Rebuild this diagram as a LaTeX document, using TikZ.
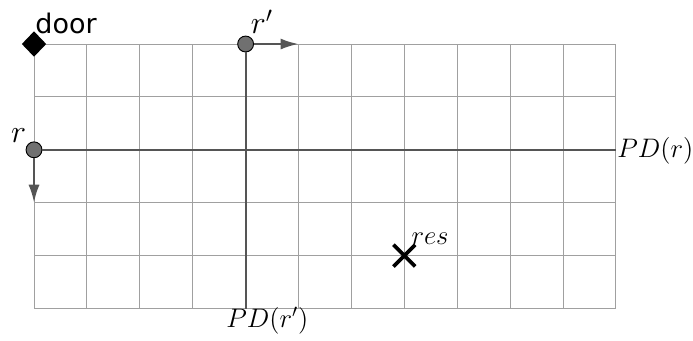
\documentclass[tikz,border=0pt]{standalone}
\usepackage{fontspec}
\newfontfamily\doorfont{DejaVu Sans}
\usetikzlibrary{arrows.meta, shapes.geometric, shapes.misc}
\definecolor{gridgray}{HTML}{A0A0A0}
\definecolor{axisgray}{HTML}{555555}
\definecolor{robotgray}{HTML}{707070}

\begin{document}
\begin{tikzpicture}[
  robot/.style={circle, draw=black, fill=robotgray, minimum size=0.3cm, inner sep=0pt, line width=0.5pt},
  axis/.style={draw=axisgray, line width=1.2pt},
  heading/.style={draw=axisgray, line width=1.2pt, -{Latex[length=3.4mm, width=2.1mm]}},
  mathlabel/.style={inner sep=0pt, font=\Large},
  robotlabel/.style={inner sep=0pt, font=\LARGE},
  doormark/.style={diamond, fill=black, minimum width=0.46cm, minimum height=0.48cm, inner sep=0pt, outer sep=0pt},
  resmark/.style={cross out, draw=black, line width=2pt, minimum size=0.34cm, inner sep=0pt}
]
\useasboundingbox (-0.643,-0.605) rectangle (12.457,5.832);
% grid
\draw[gridgray, line width=0.5pt] (0,0) grid (11,5);
% positions
\coordinate (pdr) at (11,3);
\coordinate (pdrp) at (4,0);
\coordinate (rdir) at (0,2);
\coordinate (rpdir) at (5,5);
\node[robot] (r) at (0,3) {};
\node[robot] (rp) at (4,5) {};
\node[doormark] (door) at (0,5) {};
\node[resmark] (res) at (7,1) {};
% partition lines
\draw[axis] (r) -- (pdr);
\draw[axis] (rp) -- (pdrp);
% headings
\draw[heading] (r) -- (rdir);
\draw[heading] (rp) -- (rpdir);
% labels
\node[anchor=base west, inner sep=0pt, font=\doorfont\fontsize{14.5}{16}\selectfont] (doorlabel) at (0.02,5.19) {door};
\node[robotlabel, anchor=base east] (rlabel) at (-0.14,3.14) {$r$};
\node[robotlabel, anchor=base west] (rplabel) at (4.09,5.19) {$r'$};
\node[mathlabel, anchor=base west] (reslabel) at (7.13,1.21) {$res$};
\node[mathlabel, anchor=base west] (pdrlabel) at (11.02,2.86) {$PD(r)$};
\node[mathlabel, anchor=base west] (pdrplabel) at (3.63,-0.36) {$PD(r')$};
\end{tikzpicture}
\end{document}
